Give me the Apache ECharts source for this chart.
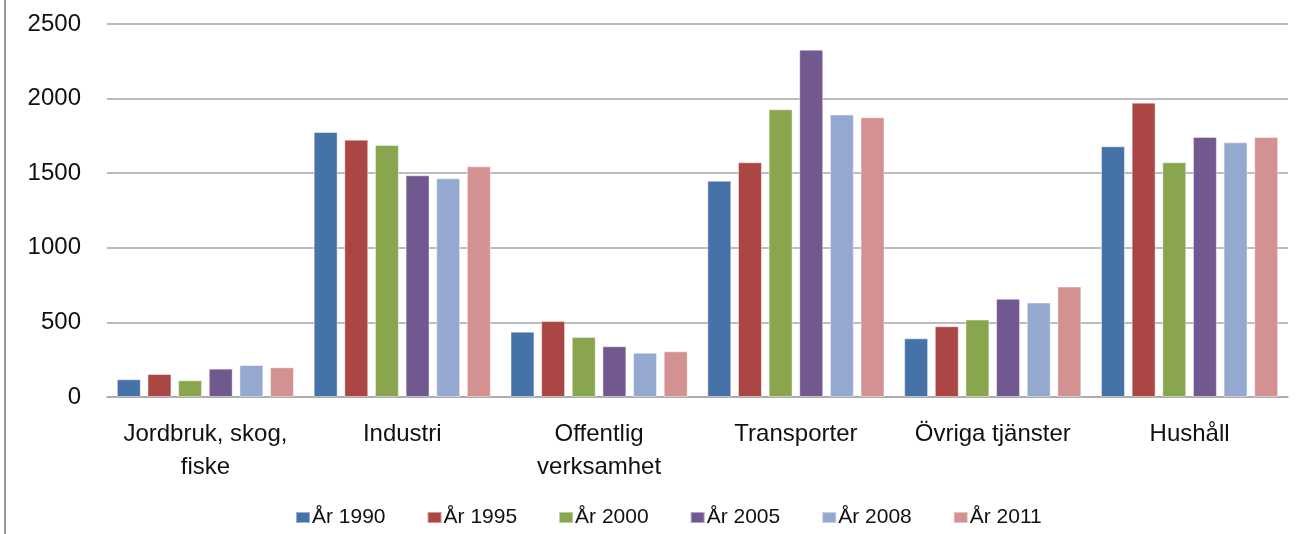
<!DOCTYPE html>
<html>
<head>
<meta charset="UTF-8">
<title>Energianvändning per sektor</title>
<script src="https://cdn.jsdelivr.net/npm/echarts@6/dist/echarts.min.js" type="text/javascript"></script>
<style type="text/css">
    html,body{
        margin:0;
        height:100%;
        background:#fff;
    }
</style>
</head>
<body>
<div id="container" style="width:1297px;height:534px"></div>
<script type="text/javascript">
	// kategorier och serier
	var categories = ['Jordbruk, skog,\nfiske', 'Industri', 'Offentlig\nverksamhet', 'Transporter', 'Övriga tjänster', 'Hushåll'];
	var years = ['År 1990', 'År 1995', 'År 2000', 'År 2005', 'År 2008', 'År 2011'];
	var y1990 = [119, 1776, 438, 1450, 393, 1680];
	var y1995 = [154, 1725, 509, 1573, 474, 1973];
	var y2000 = [112, 1689, 402, 1928, 519, 1573];
	var y2005 = [190, 1486, 340, 2328, 659, 1743];
	var y2008 = [214, 1466, 297, 1893, 633, 1707];
	var y2011 = [199, 1546, 306, 1875, 740, 1743];
	var colors = ['#4572A7', '#AA4643', '#89A54E', '#71588F', '#95A9D0', '#D39191'];

	var values = [y1990, y1995, y2000, y2005, y2008, y2011];
	var font = '"Liberation Sans", Arial, sans-serif';

	var chart = echarts.init(document.getElementById('container'));
	var series = [];
	for (var i = 0; i < years.length; i++) {
		series.push({
			name: years[i],
			type: 'bar',
			data: values[i],
			barGap: '28%',
			barCategoryGap: '10%',
			itemStyle: { color: colors[i], borderColor: 'rgba(255,255,255,0.45)', borderWidth: 1 }
		});
	}
	option = {
		animation: false,
		color: colors,
		grid: { left: 107, right: 9, top: 24, bottom: 137 },
		legend: {
			data: years,
			bottom: 1,
			left: 290,
			itemWidth: 14,
			itemHeight: 11,
			itemGap: 41,
			icon: 'rect',
			textStyle: { fontFamily: font, fontSize: 21, color: '#111', padding: [0, 0, 0, -3] }
		},
		xAxis: {
			type: 'category',
			data: categories,
			axisLine: { lineStyle: { color: '#a6a6a6', width: 1.5 } },
			axisTick: { show: false },
			axisLabel: { interval: 0, fontFamily: font, fontSize: 24, color: '#111', margin: 21, lineHeight: 33 }
		},
		yAxis: {
			type: 'value',
			min: 0,
			max: 2500,
			interval: 500,
			axisLine: { show: false },
			axisTick: { show: false },
			axisLabel: {
				fontFamily: font, fontSize: 24, color: '#111', margin: 26,
				formatter: function (v) { return String(v); }
			},
			splitLine: { lineStyle: { color: '#a6a6a6', width: 1.5 } }
		},
		// ram till vänster
		graphic: [{
			type: 'rect',
			shape: { x: 4, y: 0, width: 2, height: 534 },
			style: { fill: '#9a9a9a' }
		}],
		series: series
	};
	chart.setOption(option);
</script>
</body>
</html>
